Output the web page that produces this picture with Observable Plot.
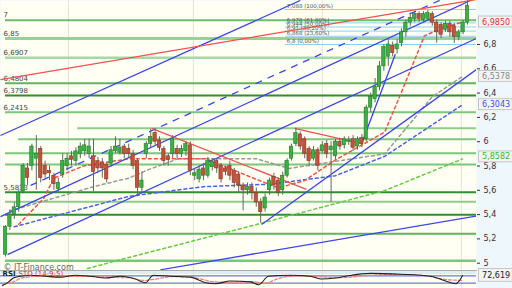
<!DOCTYPE html>
<html><head><meta charset="utf-8">
<script src="https://cdn.jsdelivr.net/npm/d3@7"></script>
<script src="https://cdn.jsdelivr.net/npm/@observablehq/plot@0.6"></script>
<style>
html,body{margin:0;padding:0;background:#eef7fb;}
#chart{width:512px;height:288px;overflow:hidden;position:relative;}
#chart svg{display:block;}
</style></head><body><div id="chart"></div>
<script>
// ---- candles (index order) ----
const opens = [5.07,5.30,5.40,5.46,5.59,5.78,5.80,5.86,5.94,5.80, 5.76,5.72,5.61,5.73,5.80,5.88,5.84,5.90,5.92,5.90,
 5.88,5.84,5.83,5.81,5.82,5.92,5.91,5.96,5.94,5.90, 5.84,5.62,5.90,5.98,6.07,6.01,5.94,5.88,5.90,5.94,
 5.90,5.92,5.97,5.72,5.69,5.78,5.72,5.79,5.84,5.80, 5.78,5.80,5.76,5.73,5.64,5.60,5.63,5.58,5.50,5.45,
 5.60,5.71,5.68,5.60,5.72,5.86,5.98,6.06,6.02,5.94, 5.86,5.93,5.92,5.98,5.93,5.88,6.00,5.97,6.00,6.02,
 5.96,6.03,6.02,6.28,6.35,6.45,6.62,6.70,6.79,6.76, 6.81,6.90,6.98,7.01,7.05,7.00,7.01,7.05,6.98,6.96,
 6.92,6.97,6.95,6.86,6.90,6.98];
const closes = [5.30,5.40,5.46,5.58,5.80,5.70,5.96,5.90,5.70,5.73, 5.74,5.65,5.66,5.84,5.86,5.85,5.92,5.96,5.97,5.96,
 5.75,5.78,5.78,5.69,5.93,5.96,5.95,5.90,5.90,5.80, 5.62,5.68,5.98,6.04,6.00,5.95,5.84,5.85,6.02,5.90,
 5.94,5.98,5.76,5.74,5.77,5.72,5.84,5.83,5.78,5.69, 5.75,5.72,5.66,5.64,5.60,5.63,5.58,5.50,5.42,5.54,
 5.68,5.64,5.58,5.72,5.84,5.96,6.07,5.96,5.90,5.84, 5.93,5.80,5.97,5.90,5.96,6.00,5.96,6.02,6.01,5.95,
 6.02,5.98,6.28,6.37,6.45,6.62,6.78,6.80,6.73,6.80, 6.90,6.98,7.02,7.05,7.01,7.05,7.06,6.98,6.90,6.88,
 6.97,6.90,6.86,6.90,6.98,7.12];
const highs = [5.31,5.44,5.50,5.60,5.82,5.82,5.98,6.05,5.96,5.84, 5.80,5.74,5.70,5.90,5.90,5.92,5.95,5.99,6.02,6.02,
 6.02,5.87,5.86,5.83,5.96,6.04,6.02,5.98,5.98,5.93, 5.86,5.75,6.00,6.10,6.11,6.04,5.96,5.90,6.05,5.97,
 5.97,6.00,6.00,5.78,5.80,5.82,5.87,5.86,5.86,5.82, 5.80,5.84,5.78,5.75,5.66,5.66,5.66,5.62,5.53,5.57,
 5.70,5.74,5.70,5.75,5.86,5.98,6.11,6.08,6.04,5.96, 5.96,5.95,6.00,6.01,6.00,6.02,6.03,6.04,6.04,6.05,
 6.04,6.06,6.30,6.40,6.52,6.66,6.80,6.84,6.82,6.84, 6.93,7.00,7.06,7.07,7.07,7.07,7.08,7.07,7.00,6.98,
 6.99,6.99,6.97,6.92,7.00,7.16];
const lows = [5.05,5.27,5.36,5.42,5.57,5.64,5.76,5.60,5.66,5.70, 5.68,5.60,5.58,5.70,5.76,5.80,5.80,5.86,5.88,5.86,
 5.59,5.74,5.70,5.66,5.79,5.90,5.89,5.86,5.86,5.77, 5.56,5.58,5.86,5.95,5.97,5.92,5.80,5.80,5.86,5.86,
 5.87,5.88,5.72,5.68,5.66,5.68,5.70,5.76,5.74,5.66, 5.72,5.68,5.62,5.58,5.43,5.56,5.52,5.46,5.33,5.42,
 5.56,5.60,5.55,5.56,5.70,5.84,5.96,5.93,5.86,5.80, 5.84,5.76,5.90,5.86,5.50,5.85,5.93,5.94,5.97,5.92,
 5.93,5.95,6.00,6.24,6.32,6.42,6.58,6.62,6.70,6.72, 6.78,6.86,6.95,6.98,6.98,6.98,6.99,6.95,6.81,6.85,
 6.90,6.86,6.81,6.83,6.88,6.96];

// ---- horizontal support/resistance levels ----
const levelPrices = [7, 6.85, 6.6907, 6.4804, 6.3798, 6.2415, 6.111, 6.021, 5.905, 5.812, 5.5833, 5.505, 5.398, 5.242, 5.02];
const levelStarts = [0, 0, 0, 0, 0, 0, 16.4, 3, 0, 0, 0, 0, 0, 0, 0];
const levelColors = ["#6cbd6c","#97d197","#a6d8a6","#5fb55f","#2f8f2f","#7cc67c","#8ccd8c","#7cc67c","#7cc67c","#7cc67c","#2f8f2f","#8ccd8c","#2f8f2f","#5fb55f","#7cc67c"];
const levelWidths = [2,3,2.5,2,2,2,2,2,2,2,2,2,2,2,2.5];
const levelLabels = ["7","6,85","6,6907","6,4804","6,3798","6,2415",null,null,null,null,"5,5833",null,null,null,null];

// ---- fibonacci retracement ----
const fibPrices = [7.088, 6.978, 6.944, 6.91, 6.868, 6.8];
const fibLabels = ["7,088 (100,00%)","6,978 (61,80%)","6,944 (50,00%)","6,91 (38,20%)","6,868 (23,60%)","6,8 (0,00%)"];
const fibStart = 63.6;

// ---- trend lines [x1, p1, x2, p2] ----
const blueLines = [
 [-1.14, 6.051, 67.0, 7.162],
 [-1.14, 5.384, 105.7, 7.162],
 [0.45, 5.07, 107.05, 6.85],
 [58.2, 5.319, 107.05, 6.594],
 [35.2, 4.946, 107.05, 5.388],
 [81.1, 6.00, 88.6, 6.72]
];
const blueDashed = [[5.7, 5.64, 107.05, 7.3]];
const redLines = [
 [-1.14, 6.511, 107.05, 7.17],
 [33.2, 6.109, 68.4, 5.607],
 [65.7, 6.109, 80.9, 5.985]
];

// ---- moving averages (index, price) ----
const maRedX = [3, 8.6, 11, 17.7, 28, 32.5, 45.5, 57, 62, 68, 75, 86.2, 89.8, 95.2, 98.8, 103.9];
const maRedP = [5.32, 5.53, 5.70, 5.80, 5.86, 5.86, 5.86, 5.69, 5.62, 5.68, 5.85, 6.08, 6.39, 6.87, 6.93, 6.985];
const maGreyX = [1, 20, 28, 32.5, 39.3, 57, 64.5, 86.2, 97, 103.9];
const maGreyP = [5.43, 5.63, 5.70, 5.77, 5.86, 5.86, 5.78, 5.90, 6.37, 6.5378];
const maBlueX = [2, 28, 45, 60, 75, 86.2, 103.9];
const maBlueP = [5.30, 5.55, 5.63, 5.65, 5.72, 5.88, 6.3043];
const maGreenX = [18.6, 28, 57, 86.2, 103.9];
const maGreenP = [4.956, 5.047, 5.318, 5.598, 5.8582];

// ---- RSI panel ----
const rsiX = [-0.7, 0.7, 1.8, 3.4, 5.7, 9.1, 12.5, 15.9, 19.3, 22.7, 26.1, 29.5, 31.8, 33.6, 37.5, 42.0, 45.5, 47.7, 51.1, 55.7, 57.5, 59.8, 64.8, 69.3, 71.6, 75.0, 77.3, 83.0, 89.8, 96.6, 100.0, 102.3, 103.9];
const rsiV = [16, 37, 58, 68, 74, 68, 63, 74, 68, 58, 68, 53, 32, 74, 68, 63, 32, 26, 42, 37, 21, 68, 74, 68, 53, 58, 68, 84, 79, 68, 42, 26, 72.619];
const sigX = [-0.7, 2, 4, 8, 12, 16, 20, 24, 28, 31.5, 34, 38, 43, 47, 51, 56, 59, 62, 66, 72, 76, 82, 88, 95, 100, 103.9];
const sigV = [20, 40, 60, 68, 66, 68, 66, 62, 60, 45, 52, 66, 60, 38, 34, 38, 30, 55, 70, 64, 60, 72, 78, 72, 50, 45];

const vGrid = [14.3, 42.7, 72.0, 103.6];
const xDomain = [-1.14, 107.05];
const FONT = "DejaVu Sans, Verdana, sans-serif";

const candles = opens.map((o, i) => ({i, o, c: closes[i], h: highs[i], l: lows[i]}));
const levels = levelPrices.map((p, k) => ({p, x1: levelStarts[k], color: levelColors[k], w: levelWidths[k], label: levelLabels[k]}));
const fibs = fibPrices.map((p, k) => ({p, label: fibLabels[k], dashed: k > 0 && k < fibPrices.length - 1}));
const seg = a => ({x1: a[0], y1: a[1], x2: a[2], y2: a[3]});
const ma = (xs, ps) => xs.map((x, k) => ({x, p: ps[k]}));
const fmt = d => String(+(+d).toFixed(4)).replace(".", ",");

const lastBoxes = [
 {p: 6.985, t: "6,9850", c: "#e03030", dy: 0},
 {p: 6.5378, t: "6,5378", c: "#888888", dy: 0},
 {p: 6.3043, t: "6,3043", c: "#3a55e0", dy: 0},
 {p: 5.8582, t: "5,8582", c: "#33bb33", dy: -2}
];

const main = Plot.plot({
  width: 512, height: 270,
  marginLeft: 0, marginRight: 36, marginTop: 0, marginBottom: 0,
  style: {fontFamily: FONT, background: "#eef7fb", overflow: "visible"},
  x: {domain: xDomain, axis: null},
  y: {domain: [4.94, 7.162], axis: null},
  marks: [
    Plot.frame({fill: "#fffff3"}),
    Plot.ruleX(vGrid, {stroke: "#e2e2d6", strokeWidth: 1}),
    // horizontal levels
    Plot.ruleY(levels, {y: "p", x1: "x1", x2: xDomain[1], stroke: "color", strokeWidth: "w"}),
    Plot.text(levels.filter(d => d.label), {y: "p", text: "label", frameAnchor: "left", dx: 3, dy: -5, textAnchor: "start", fontSize: 7, fill: "#444"}),
    // fib
    Plot.ruleY(fibs, {y: "p", x1: fibStart, x2: xDomain[1], stroke: "#8fd0ee", strokeWidth: 1, strokeDasharray: d => d.dashed ? "3,2" : null}),
    Plot.text(fibs, {y: "p", x: fibStart + 0.3, text: "label", dy: -3, textAnchor: "start", fontSize: 5.5, fill: "#555"}),
    // moving averages
    Plot.line(ma(maGreenX, maGreenP), {x: "x", y: "p", stroke: "#66cc44", strokeWidth: 1.5, strokeDasharray: "3,3", clip: true}),
    Plot.line(ma(maBlueX, maBlueP), {x: "x", y: "p", stroke: "#4a63e6", strokeWidth: 1.5, strokeDasharray: "3,3", clip: true}),
    Plot.line(ma(maGreyX, maGreyP), {x: "x", y: "p", stroke: "#999999", strokeWidth: 1.5, strokeDasharray: "3,3", clip: true}),
    Plot.line(ma(maRedX, maRedP), {x: "x", y: "p", stroke: "#ee5544", strokeWidth: 1.5, strokeDasharray: "3,3", clip: true}),
    // trend lines
    Plot.link(blueLines.map(seg), {x1: "x1", y1: "y1", x2: "x2", y2: "y2", stroke: "#3b45e8", strokeWidth: 1.3, clip: true}),
    Plot.link(blueDashed.map(seg), {x1: "x1", y1: "y1", x2: "x2", y2: "y2", stroke: "#3b45e8", strokeWidth: 1.3, strokeDasharray: "7,6", clip: true}),
    Plot.link(redLines.map(seg), {x1: "x1", y1: "y1", x2: "x2", y2: "y2", stroke: "#f05050", strokeWidth: 1.3, clip: true}),
    // candles
    Plot.ruleX(candles, {x: "i", y1: "l", y2: "h", stroke: "#666", strokeWidth: 1}),
    Plot.rect(candles, {x1: d => d.i - 0.38, x2: d => d.i + 0.38, y1: "o", y2: "c",
      fill: d => d.c >= d.o ? "#3cb043" : "#c0533a", stroke: d => d.c >= d.o ? "#1f7a28" : "#8a3424", strokeWidth: 0.6}),
    // right axis
    Plot.axisY([5,5.2,5.4,5.6,5.8,6,6.2,6.4,6.6,6.8], {anchor: "right", tickSize: 3, tickPadding: 4, tickFormat: fmt, fontSize: 8, color: "#333"}),
    // last value boxes
    Plot.rect(lastBoxes, {x1: 107.6, x2: 115.3, y1: d => d.p - 0.045 + d.dy / -121.5, y2: d => d.p + 0.045 + d.dy / -121.5, fill: "#f4f4f4", stroke: "#bbb", strokeWidth: 0.8}),
    Plot.text(lastBoxes, {x: 111.5, y: d => d.p + d.dy / -121.5, text: "t", fill: "c", fontSize: 8}),
    Plot.text(["© IT-Finance.com"], {frameAnchor: "bottom-left", dx: 3, dy: -1, fontSize: 8, fill: "#666", textAnchor: "start"})
  ]
});

const rsi = Plot.plot({
  width: 512, height: 18,
  marginLeft: 0, marginRight: 36, marginTop: 0, marginBottom: 0,
  style: {fontFamily: FONT, background: "#eef7fb", overflow: "visible"},
  x: {domain: xDomain, axis: null},
  y: {domain: [0, 100], axis: null},
  marks: [
    Plot.frame({fill: "#fffff3"}),
    Plot.rectY([0], {x1: xDomain[0], x2: xDomain[1], y1: 78, y2: 100, fill: "#dbeefa"}),
    Plot.ruleX(vGrid, {stroke: "#e2e2d6"}),
    Plot.ruleY([70, 30], {stroke: "#4a55e0", strokeWidth: 1}),
    Plot.line(sigX.map((x, k) => ({x, v: sigV[k]})), {x: "x", y: "v", stroke: "#f08080", strokeWidth: 1.3, strokeDasharray: "3,2", curve: "monotone-x"}),
    Plot.line(rsiX.map((x, k) => ({x, v: rsiV[k]})), {x: "x", y: "v", stroke: "#222", strokeWidth: 1.1, curve: "monotone-x"}),
    Plot.text(["RSI"], {frameAnchor: "top-left", dx: 2, dy: 1, fontSize: 7, fill: "#222", textAnchor: "start", fontWeight: "bold"}),
    Plot.text(["STO (14-9-5)"], {frameAnchor: "top-left", dx: 18, dy: 1, fontSize: 7, fill: "#e03030", textAnchor: "start"}),
    Plot.frame({anchor: "top", stroke: "#aaa"}),
    Plot.rect([72.619], {x1: 107.6, x2: 115.3, y1: d => d - 35, y2: d => d + 35, fill: "#f4f4f4", stroke: "#bbb", strokeWidth: 0.8}),
    Plot.text([72.619], {x: 111.5, y: d => d, text: d => fmt(d), fontSize: 8, fill: "#222"})
  ]
});

const host = document.getElementById("chart");
host.appendChild(main);
host.appendChild(rsi);
</script>
</body></html>
